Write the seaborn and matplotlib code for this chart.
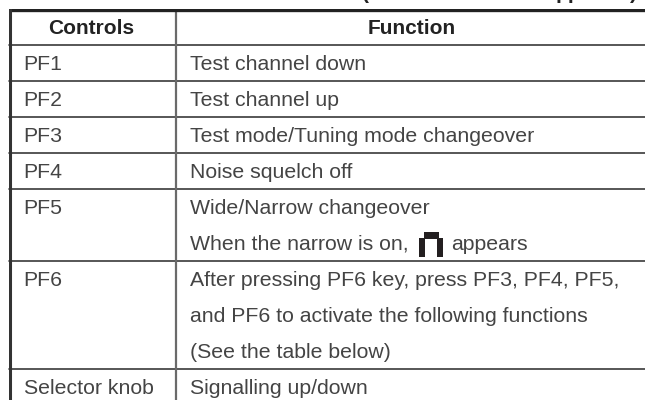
import numpy as np
import pandas as pd
import matplotlib
matplotlib.use("Agg")
import matplotlib.pyplot as plt
from matplotlib.patches import Rectangle
import seaborn as sns

headers = ["Controls", "Function"]
controls = ["PF1", "PF2", "PF3", "PF4", "PF5", "", "PF6", "", "", "Selector knob"]
functions = ["Test channel down", "Test channel up", "Test mode/Tuning mode changeover",
             "Noise squelch off", "Wide/Narrow changeover", "When the narrow is on,",
             "After pressing PF6 key, press PF3, PF4, PF5,",
             "and PF6 to activate the following functions",
             "(See the table below)", "Signalling up/down"]
appears = "appears"
row_lines = [1, 2, 3, 4, 5, 7, 10]   # row borders, in text lines

W, H = 645, 400
sns.set_theme(style="white")
plt.rcParams['font.family'] = ['Liberation Sans', 'DejaVu Sans']

fig = plt.figure(figsize=(W / 100, H / 100), dpi=100)
# table starts at x=9, y=9; every text line is 36 px high
ax = fig.add_axes([9 / W, 1 - 405 / H, (W - 9) / W, 396 / H], clip_on=False)
grid = pd.DataFrame(np.zeros((len(functions) + 1, 1)))
sns.heatmap(grid, ax=ax, cmap=["white"], cbar=False, xticklabels=False, yticklabels=False)


def px(x):
    return (x - 9) / (W - 9)


def py(y):
    return (y - 9) / 36


fs = 15.3
base = 25 / 36   # baseline inside a text line
col1, col2 = px(23.5), px(189.5)
ink = "#444444"
head_ink = "#222222"

ax.text(px(91), base, headers[0], ha="center", va="baseline", fontsize=15, weight="bold", color=head_ink)
ax.text(px(412), base, headers[1], ha="center", va="baseline", fontsize=15, weight="bold", color=head_ink)
for i, (c, f) in enumerate(zip(controls, functions)):
    y = i + 1 + base
    if c:
        ax.text(col1, y, c, va="baseline", fontsize=fs, color=ink)
    ax.text(col2, y, f, va="baseline", fontsize=fs, color=ink)
ax.text(px(451), 6 + base, appears, va="baseline", fontsize=fs, color=ink)

# little "narrow" display icon
icon = "#231f20"
for x0, y0, w, h in [(424, 232, 15, 7), (419, 238, 6, 19), (437, 238, 6, 19)]:
    ax.add_patch(Rectangle((px(x0), py(y0)), w / (W - 9), h / 36, color=icon, lw=0))

# rules
for n in row_lines:
    ax.axhline(n, color="#3a3a3a", lw=1.2, clip_on=False)
ax.axvline(px(175.5), color="#6a6a6a", lw=1.6)
ax.axhline(py(10), color="#222222", lw=2.4)
ax.axvline(px(10), color="#333333", lw=2.2)

# tail ends of the line cut off above the table
for x, s in [(362, "("), (556, "pp"), (630, ")")]:
    fig.text(x / W, 1 + 1 / H, s, ha="left", va="baseline", fontsize=15, weight="bold", color=head_ink)

fig.savefig("out.png", dpi=100)
